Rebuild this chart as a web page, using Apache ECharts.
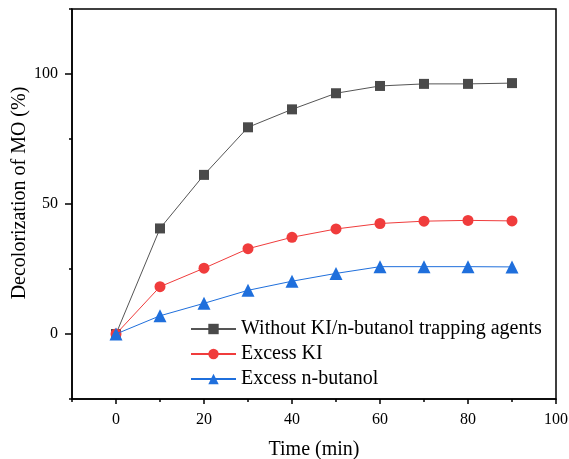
<!DOCTYPE html>
<html><head><meta charset="utf-8">
<script src="https://cdn.jsdelivr.net/npm/echarts@6/dist/echarts.min.js"></script>
<style>html,body{margin:0;padding:0;background:#fff}#c{width:569px;height:459px}</style>
</head><body><div id="c"></div>
<script>
var times = [0, 10, 20, 30, 40, 50, 60, 70, 80, 90];
var withoutTrap = [0, 40.6, 61.2, 79.5, 86.4, 92.6, 95.4, 96.2, 96.2, 96.5];
var excessKI = [0, 18.2, 25.3, 32.8, 37.2, 40.4, 42.5, 43.4, 43.7, 43.5];
var excessButanol = [0, 7.0, 11.8, 16.8, 20.3, 23.3, 25.9, 25.9, 25.9, 25.8];
var xMajorTicks = [0, 20, 40, 60, 80, 100];
var yMajorTicks = [0, 50, 100];
var seriesNames = ['Without KI/n-butanol trapping agents', 'Excess KI', 'Excess n-butanol'];

function pairs(arr){ return times.map(function(t,i){ return [t, arr[i]]; }); }
var font = 'Liberation Serif';
var chart = echarts.init(document.getElementById('c'), null, {renderer:'canvas'});
chart.setOption({
  animation: false,
  backgroundColor: '#fff',
  grid: {left: 72, right: 13, top: 9, bottom: 60, outerBoundsMode: 'none', containLabel: false,
         show: true, borderColor: '#000', borderWidth: 1.5, backgroundColor: 'transparent'},
  legend: {
    orient: 'vertical', left: 185, top: 314, itemWidth: 45, itemHeight: 13, itemGap: 5,
    textStyle: {fontFamily: font, fontSize: 20, color: '#000'},
    data: seriesNames
  },
  xAxis: [{
    type: 'value', min: -10, max: 100, interval: 10, position: 'bottom',
    axisLine: {show: true, onZero: false, lineStyle: {color: '#000', width: 1.5}},
    axisTick: {show: true, length: 5, customValues: xMajorTicks, lineStyle: {color: '#000', width: 1.5}},
    axisLabel: {customValues: xMajorTicks, margin: 13, fontFamily: font, fontSize: 16, color: '#000'},
    splitLine: {show: false},
    name: 'Time (min)', nameLocation: 'middle', nameGap: 41, nameMoveOverlap: false,
    nameTextStyle: {fontFamily: font, fontSize: 20, color: '#000'}
  },{
    type: 'value', min: -10, max: 100, interval: 10, position: 'bottom',
    axisLine: {show: false, onZero: false},
    axisTick: {show: true, length: 3, lineStyle: {color: '#000', width: 1.5}},
    axisLabel: {show: false}, splitLine: {show: false}
  }],
  yAxis: [{
    type: 'value', min: -25, max: 125, interval: 25, position: 'left',
    axisLine: {show: true, onZero: false, lineStyle: {color: '#000', width: 1.5}},
    axisTick: {show: true, length: 7, customValues: yMajorTicks, lineStyle: {color: '#000', width: 1.5}},
    axisLabel: {customValues: yMajorTicks, margin: 14, fontFamily: font, fontSize: 16, color: '#000'},
    splitLine: {show: false},
    name: 'Decolorization of MO (%)', nameLocation: 'middle', nameGap: 42, nameRotate: 90, nameMoveOverlap: false,
    nameTextStyle: {fontFamily: font, fontSize: 20, color: '#000', padding: [0, 0, 0, 22]}
  },{
    type: 'value', min: -25, max: 125, interval: 25, position: 'left',
    axisLine: {show: false, onZero: false},
    axisTick: {show: true, length: 3, lineStyle: {color: '#000', width: 1.5}},
    axisLabel: {show: false}, splitLine: {show: false}
  }],
  series: [
    {name: seriesNames[0], type: 'line', data: pairs(withoutTrap), symbol: 'rect', symbolSize: 10,
     itemStyle: {color: '#4a4a4a'}, lineStyle: {color: '#555', width: 1}, z: 3},
    {name: seriesNames[1], type: 'line', data: pairs(excessKI), symbol: 'circle', symbolSize: 11,
     itemStyle: {color: '#f03c3c'}, lineStyle: {color: '#f03c3c', width: 1}, z: 4},
    {name: seriesNames[2], type: 'line', data: pairs(excessButanol), symbol: 'triangle', symbolSize: 13,
     itemStyle: {color: '#1f6fdc'}, lineStyle: {color: '#1f6fdc', width: 1}, z: 5}
  ]
});
</script></body></html>
